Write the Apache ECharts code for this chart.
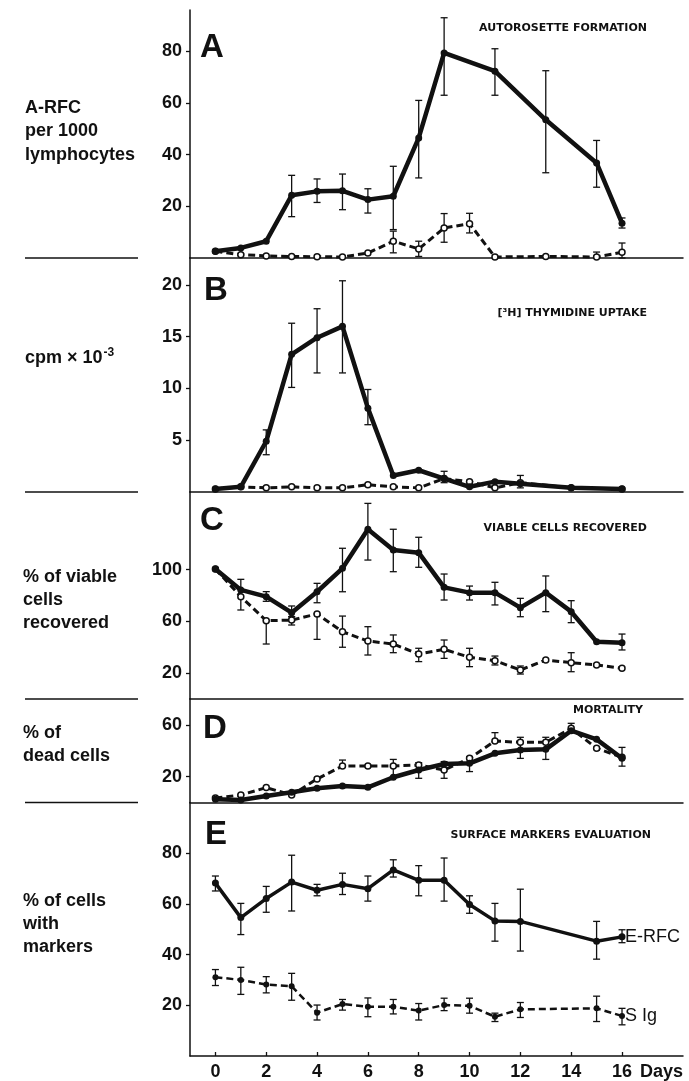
<!DOCTYPE html>
<html>
<head>
<meta charset="utf-8">
<script src="https://cdn.jsdelivr.net/npm/echarts@6/dist/echarts.min.js"></script>
<style>
  html, body { margin: 0; padding: 0; background: #fff; }
  #chart { width: 689px; height: 1081px; }
</style>
</head>
<body>
<div id="chart"></div>
<script>
// panel A - autorosette formation
var aSolidDays = [0, 1, 2, 3, 4, 5, 6, 7, 8, 9, 11, 13, 15, 16];
var aSolid = [2.6, 3.9, 6.5, 24.3, 25.8, 26, 22.6, 23.9, 46.5, 79.4, 72.3, 53.5, 36.8, 13.5];
var aSolidLo = [null, null, null, 16, 21.5, 18.7, 17.4, 11, 31, 63, 63, 33, 27.4, 11.6];
var aSolidHi = [null, null, null, 32, 30.6, 32.5, 26.8, 35.5, 61, 93, 81, 72.5, 45.5, 15.5];
var aDashDays = [0, 1, 2, 3, 4, 5, 6, 7, 8, 9, 10, 11, 13, 15, 16];
var aDash = [2.6, 1.3, 0.8, 0.6, 0.5, 0.4, 1.9, 6.5, 3.5, 11.6, 13.3, 0.4, 0.6, 0.4, 2.2];
var aDashLo = [null, null, null, null, null, null, null, 2, 0.6, 6.1, 9.7, null, null, 0, 0];
var aDashHi = [null, null, null, null, null, null, null, 10.4, 6.5, 17.2, 17.3, null, null, 2.3, 5.8];

// panel B - thymidine uptake
var bDays = [0, 1, 2, 3, 4, 5, 6, 7, 8, 9, 10, 11, 12, 14, 16];
var bSolid = [0.3, 0.5, 4.9, 13.3, 14.9, 16.0, 8.1, 1.6, 2.1, 1.3, 0.5, 1.0, 0.8, 0.4, 0.3];
var bSolidLo = [null, null, 3.6, 10.1, 11.5, 11.5, 6.5, null, null, 0.9, null, null, null, null, null];
var bSolidHi = [null, null, 6.0, 16.3, 17.7, 20.4, 9.9, null, null, 2.0, null, null, null, null, null];
var bDash = [0.3, 0.5, 0.4, 0.5, 0.4, 0.4, 0.7, 0.5, 0.4, 1.3, 1.0, 0.4, 0.9, 0.4, 0.3];
var bDashLo = [null, null, null, null, null, null, null, null, null, null, null, null, 0.4, null, null];
var bDashHi = [null, null, null, null, null, null, null, null, null, null, null, null, 1.6, null, null];

// panel C - viable cells recovered
var cDays = [0, 1, 2, 3, 4, 5, 6, 7, 8, 9, 10, 11, 12, 13, 14, 15, 16];
var cSolid = [100.5, 84.3, 79.1, 66.7, 82.9, 101, 131.2, 115.2, 113.1, 86.3, 82.2, 82.2, 70.6, 82.2, 67.5, 44.3, 43.5];
var cSolidLo = [null, 68.8, 75.5, 63.6, 74.4, 82.9, 107.4, 98.4, 101.8, 76.5, 76.5, 72.7, 63.6, 67.5, 59, null, 37.9];
var cSolidHi = [null, 92.5, 83, 71.9, 89.4, 116.5, 151.2, 131.2, 125, 96.6, 87.3, 90.2, 77.8, 95.1, 76, null, 50.2];
var cDash = [100.5, 79.1, 60.5, 61.0, 65.7, 52, 44.8, 42.5, 34.8, 38.4, 32.2, 29.6, 22.4, 30.1, 28.1, 26.3, 23.7];
var cDashLo = [null, null, 42.5, 57.2, 46.1, 40, 34, 35.8, 28.9, 31.4, 25, 26.3, 19.3, null, 21.1, null, null];
var cDashHi = [null, null, 60.5, 63.6, 65.7, 64.1, 55.9, 49.5, 39.2, 45.6, 39.2, 33.2, 25.5, null, 35.8, null, null];

// panel D - mortality
var dDays = [0, 1, 2, 3, 4, 5, 6, 7, 8, 9, 10, 11, 12, 13, 14, 15, 16];
var dSolid = [2.5, 2, 5, 7.9, 11, 12.8, 11.7, 19.5, 25.1, 29.8, 30.3, 38, 40.6, 41.1, 55.5, 48.8, 34.2];
var dSolidLo = [null, null, null, null, null, 27.7, null, 20, 18.7, 18.7, 23.9, 47, 34.1, 33.3, 54.8, null, 28.1];
var dSolidHi = [null, null, null, null, null, 32.8, null, 33.3, 30.8, 31.6, 35.4, 54, 50.4, 50.4, 61.2, null, 42.6];
var dDash = [3.5, 5.8, 11.5, 5.8, 18.2, 28.2, 28.2, 28.2, 29, 25.1, 34.2, 47.5, 46.5, 46.5, 57.3, 41.9, 34.9];

// panel E - surface markers
var eDays = [0, 1, 2, 3, 4, 5, 6, 7, 8, 9, 10, 11, 12, 15, 16];
var eRfc = [68.2, 54.6, 62.1, 68.6, 65.4, 67.7, 66.0, 73.4, 69.3, 69.3, 59.8, 53.3, 53.1, 45.3, 47];
var eRfcLo = [65.1, 47.9, 56.7, 57.2, 63.2, 63.7, 61.1, 70.6, 63.2, 61.1, 56.3, 45.3, 41.4, 38.2, 44.7];
var eRfcHi = [71, 60.2, 66.9, 79.2, 67.7, 72.1, 71, 77.4, 75.1, 78.1, 63.2, 60.2, 65.8, 53.1, 49.8];
var sIg = [31.1, 30.0, 28.2, 27.5, 17.1, 20.5, 19.4, 19.4, 17.9, 20.1, 19.8, 15.5, 18.4, 18.8, 15.8];
var sIgLo = [27.8, 24.3, 24.9, 22, 14.2, 18.1, 15.5, 16.6, 14.2, 17.9, 16.9, 13.6, 15.2, 13.6, 12.3];
var sIgHi = [34.1, 35, 31.3, 32.6, 20.1, 22.3, 22.9, 22.3, 20.7, 22.8, 22.8, 16.9, 21.1, 23.6, 18.8];

// axis ticks
var xTicks = [0, 2, 4, 6, 8, 10, 12, 14, 16];
var yTicks = [[20, 40, 60, 80], [5, 10, 15, 20], [20, 60, 100], [20, 60], [20, 40, 60, 80]];
var yMax = [96, 22.6, 160, 80, 100];

var INK = '#111';
var NUM_FONT = "'Liberation Sans', Arial, sans-serif";
var panels = [
  { top: 10, height: 248 },
  { top: 258, height: 234 },
  { top: 492, height: 207 },
  { top: 699, height: 103.5 },
  { top: 802.5, height: 257.5 }
];

function pairs(days, vals) {
  return days.map(function (d, i) { return [d, vals[i]]; });
}

function lineSeries(idx, name, days, vals, dashed, filled) {
  return {
    type: 'line',
    name: name,
    xAxisIndex: idx,
    yAxisIndex: idx,
    data: pairs(days, vals),
    symbol: 'circle',
    symbolSize: dashed ? 6 : 7,
    lineStyle: { color: INK, width: dashed ? 3 : 4.5, type: dashed ? [7, 4] : 'solid' },
    itemStyle: {
      color: (dashed && !filled) ? '#fff' : INK,
      borderColor: INK,
      borderWidth: (dashed && !filled) ? 1.5 : 0
    },
    z: dashed ? 3 : 4,
    silent: true
  };
}

function errSeries(idx, days, lo, hi) {
  var data = [];
  days.forEach(function (d, i) {
    if (lo[i] != null) data.push([d, lo[i], hi[i]]);
  });
  return {
    type: 'custom',
    xAxisIndex: idx,
    yAxisIndex: idx,
    silent: true,
    z: 2,
    encode: { x: 0, y: [1, 2] },
    data: data,
    renderItem: function (params, api) {
      var top = api.coord([api.value(0), api.value(2)]);
      var bot = api.coord([api.value(0), api.value(1)]);
      var w = 3.5;
      var st = { stroke: INK, lineWidth: 1.3 };
      return {
        type: 'group',
        children: [
          { type: 'line', shape: { x1: top[0], y1: top[1], x2: bot[0], y2: bot[1] }, style: st },
          { type: 'line', shape: { x1: top[0] - w, y1: top[1], x2: top[0] + w, y2: top[1] }, style: st },
          { type: 'line', shape: { x1: bot[0] - w, y1: bot[1], x2: bot[0] + w, y2: bot[1] }, style: st }
        ]
      };
    }
  };
}

var chart = echarts.init(document.getElementById('chart'), null, { renderer: 'canvas' });

var grid = panels.map(function (p) {
  return { left: 190, right: 6, top: p.top, height: p.height };
});

var xAxis = panels.map(function (p, i) {
  var last = i === panels.length - 1;
  return {
    type: 'value',
    gridIndex: i,
    min: -1,
    max: 18.4,
    splitLine: { show: false },
    axisLine: { show: true, onZero: false, lineStyle: { color: INK, width: 1.5 } },
    axisTick: { show: last, inside: true, length: 4, customValues: xTicks, lineStyle: { color: INK, width: 1.3 } },
    axisLabel: {
      show: last, customValues: xTicks, margin: 7,
      color: INK, fontFamily: NUM_FONT, fontWeight: 'bold', fontSize: 18
    },
    name: last ? 'Days' : '',
    nameLocation: 'end',
    nameGap: 0,
    nameTextStyle: {
      color: INK, fontFamily: NUM_FONT, fontWeight: 'bold', fontSize: 18,
      align: 'right', verticalAlign: 'top', padding: [7, 0, 0, 0]
    }
  };
});

var yAxis = panels.map(function (p, i) {
  return {
    type: 'value',
    gridIndex: i,
    min: 0,
    max: yMax[i],
    splitLine: { show: false },
    axisLine: { show: true, onZero: false, lineStyle: { color: INK, width: 1.5 } },
    axisTick: { show: true, length: 4, customValues: yTicks[i], lineStyle: { color: INK, width: 1.3 } },
    axisLabel: {
      customValues: yTicks[i], margin: 8,
      color: INK, fontFamily: NUM_FONT, fontWeight: 'bold', fontSize: 18
    }
  };
});

var series = [
  errSeries(0, aSolidDays, aSolidLo, aSolidHi),
  errSeries(0, aDashDays, aDashLo, aDashHi),
  lineSeries(0, 'A-RFC', aSolidDays, aSolid, false),
  lineSeries(0, 'control', aDashDays, aDash, true),

  errSeries(1, bDays, bSolidLo, bSolidHi),
  errSeries(1, bDays, bDashLo, bDashHi),
  lineSeries(1, 'thymidine', bDays, bSolid, false),
  lineSeries(1, 'control', bDays, bDash, true),

  errSeries(2, cDays, cSolidLo, cSolidHi),
  errSeries(2, cDays, cDashLo, cDashHi),
  lineSeries(2, 'viable', cDays, cSolid, false),
  lineSeries(2, 'control', cDays, cDash, true),

  errSeries(3, dDays, dSolidLo, dSolidHi),
  lineSeries(3, 'control', dDays, dDash, true),
  lineSeries(3, 'dead', dDays, dSolid, false),

  errSeries(4, eDays, eRfcLo, eRfcHi),
  errSeries(4, eDays, sIgLo, sIgHi),
  lineSeries(4, 'E-RFC', eDays, eRfc, false),
  lineSeries(4, 'S Ig', eDays, sIg, true, true)
];

// end labels for panel E
[series[17], series[18]].forEach(function (s) {
  s.lineStyle.width = s.lineStyle.type === 'solid' ? 3.5 : 2.5;
  s.endLabel = {
    show: true,
    formatter: '{a}',
    distance: 3,
    color: INK,
    fontFamily: NUM_FONT,
    fontSize: 18
  };
});

var LABEL_FONT = "bold 18px 'Liberation Sans', Arial, sans-serif";
var TITLE_FONT = "bold 11px 'DejaVu Sans', sans-serif";
var LETTER_FONT = "bold 33px 'Liberation Sans', Arial, sans-serif";

function txt(text, x, y, font, align, valign, extra) {
  var st = { text: text, font: font, fill: INK, textAlign: align || 'left', textVerticalAlign: valign || 'top' };
  if (extra) Object.assign(st, extra);
  return { type: 'text', x: x, y: y, silent: true, style: st };
}

function sep(y) {
  return { type: 'line', silent: true, shape: { x1: 25, y1: y, x2: 138, y2: y }, style: { stroke: INK, lineWidth: 1.5 } };
}

var graphic = [
  sep(258), sep(492), sep(699), sep(802.5),

  txt('A-RFC\nper 1000\nlymphocytes', 25, 96, LABEL_FONT, 'left', 'top', { lineHeight: 23.5 }),
  txt('{n|cpm × 10}{s|-3}', 25, 358, LABEL_FONT, 'left', 'middle', {
    rich: {
      n: { font: LABEL_FONT, fill: INK },
      s: { font: "bold 12px 'Liberation Sans', Arial, sans-serif", fill: INK, padding: [0, 0, 10, 1] }
    }
  }),
  txt('% of viable\ncells\nrecovered', 23, 566, LABEL_FONT, 'left', 'top', { lineHeight: 23 }),
  txt('% of\ndead cells', 23, 722, LABEL_FONT, 'left', 'top', { lineHeight: 23 }),
  txt('% of cells\nwith\nmarkers', 23, 890, LABEL_FONT, 'left', 'top', { lineHeight: 23 }),

  txt('A', 200, 48, LETTER_FONT, 'left', 'middle'),
  txt('B', 204, 291, LETTER_FONT, 'left', 'middle'),
  txt('C', 200, 521, LETTER_FONT, 'left', 'middle'),
  txt('D', 203, 729, LETTER_FONT, 'left', 'middle'),
  txt('E', 205, 835, LETTER_FONT, 'left', 'middle'),

  txt('AUTOROSETTE FORMATION', 647, 28, TITLE_FONT, 'right', 'middle'),
  txt('[³H] THYMIDINE UPTAKE', 647, 313, TITLE_FONT, 'right', 'middle'),
  txt('VIABLE CELLS RECOVERED', 647, 528, TITLE_FONT, 'right', 'middle'),
  txt('MORTALITY', 643, 710, TITLE_FONT, 'right', 'middle'),
  txt('SURFACE MARKERS EVALUATION', 651, 835, TITLE_FONT, 'right', 'middle')
];

chart.setOption({
  backgroundColor: '#fff',
  animation: false,
  grid: grid,
  xAxis: xAxis,
  yAxis: yAxis,
  series: series,
  graphic: graphic
});
</script>
</body>
</html>
